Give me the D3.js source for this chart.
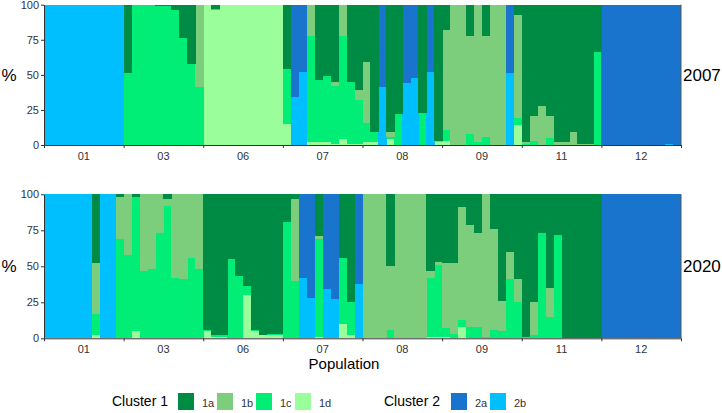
<!DOCTYPE html>
<html>
<head>
<meta charset="utf-8">
<script src="https://cdn.jsdelivr.net/npm/d3@7"></script>
<style>
  body { margin: 0; background: #fff; }
  svg { font-family: "Liberation Sans", Arial, sans-serif; }
</style>
</head>
<body>
<div id="chart"></div>
<script>
// population labels along the x axis
var popLabels = ["01", "03", "06", "07", "08", "09", "11", "12"];
var yTicks = [0, 25, 50, 75, 100];

// cluster keys, stacked bottom to top
var clusterKeys = ["1d", "1c", "2b", "1b", "2a", "1a"];
var clusterColors = {"1a": "#008B45", "1b": "#7CCD7C", "1c": "#00EE76", "1d": "#9AFF9A", "2a": "#1874CD", "2b": "#00BFFF"};

// 2007: membership (%) of each of the 80 individuals
var q2007_1a = [0,0,0,0,0,0,0,0,0,0, 49,0,0,0,1,1,4,24,42,0, 0,3,0,0,0,0,0,0,0,0,
  46,0,0,0,54,51,55,0,55,61, 41,91,0,91,78,0,0,77,0,97, 18,0,0,22,0,22,0,0,0,7,
  98,79,72,79,98,98,91,99,99,34, 0,0,0,0,0,0,0,0,0,0];
var q2007_1b = [0,0,0,0,0,0,0,0,0,0, 0,0,0,0,0,0,0,0,0,59, 0,0,0,0,0,0,0,0,0,0,
  0,0,0,22,0,0,3,22,0,7, 43,0,0,3,0,0,0,0,0,1, 71,100,100,70,98,72,100,100,0,74,
  1,18,28,16,2,2,9,1,1,0, 0,0,0,0,0,0,0,0,0,0];
var q2007_1c = [0,0,0,0,0,0,0,0,0,0, 51,100,100,100,99,99,96,76,58,41, 0,1,0,0,0,0,0,0,0,0,
  39,0,0,76,44,47,41,74,44,31, 14,7,0,2,22,0,0,23,0,0, 8,0,0,8,2,6,0,0,0,5,
  1,3,0,5,0,0,0,0,0,66, 0,0,0,0,0,0,0,0,0,0];
var q2007_1d = [0,0,0,0,0,0,0,0,0,0, 0,0,0,0,0,0,0,0,0,0, 100,96,100,100,100,100,100,100,100,100,
  15,0,0,2,2,2,1,4,1,1, 2,2,0,4,0,0,0,0,0,2, 3,0,0,0,0,0,0,0,0,14,
  0,0,0,0,0,0,0,0,0,0, 0,0,0,0,0,0,0,0,0,0];
var q2007_2a = [0,0,0,0,0,0,0,0,0,0, 0,0,0,0,0,0,0,0,0,0, 0,0,0,0,0,0,0,0,0,0,
  0,66,48,0,0,0,0,0,0,0, 0,0,59,0,0,56,52,0,48,0, 0,0,0,0,0,0,0,0,49,0,
  0,0,0,0,0,0,0,0,0,0, 100,100,100,100,100,100,100,100,99,100];
var q2007_2b = [100,100,100,100,100,100,100,100,100,100, 0,0,0,0,0,0,0,0,0,0, 0,0,0,0,0,0,0,0,0,0,
  0,34,52,0,0,0,0,0,0,0, 0,0,41,0,0,44,48,0,52,0, 0,0,0,0,0,0,0,0,51,0,
  0,0,0,0,0,0,0,0,0,0, 0,0,0,0,0,0,0,0,1,0];

// 2020
var q2020_1a = [0,0,0,0,0,0,48,0,0,2, 0,2,0,0,0,3,0,0,0,0, 94,98,98,45,57,64,94,98,97,97,
  19,3,0,0,29,0,0,44,75,0, 0,0,0,50,0,0,0,0,53,47, 48,48,9,21,27,0,24,74,40,59,
  99,75,27,65,28,100,100,100,100,100, 0,0,0,0,0,0,0,0,0,0];
var q2020_1b = [0,0,0,0,0,0,35,0,0,29, 42,0,53,52,27,5,58,59,44,52, 0,0,0,0,0,0,0,0,0,0,
  0,57,0,0,2,0,0,0,0,0, 100,100,100,44,100,100,100,100,5,2, 45,49,78,71,65,99,70,21,19,16,
  0,23,0,20,0,0,0,0,0,0, 0,0,0,0,0,0,0,0,0,0];
var q2020_1c = [0,0,0,0,0,0,15,0,0,69, 58,93,47,48,73,92,42,41,56,48, 1,1,1,55,43,6,1,0,1,1,
  81,40,0,0,68,0,0,46,23,0, 0,0,0,6,0,0,0,0,41,50, 6,3,5,8,8,1,6,5,41,25,
  1,2,73,15,72,0,0,0,0,0, 0,0,0,0,0,0,0,0,0,0];
var q2020_1d = [0,0,0,0,0,0,2,0,0,0, 0,5,0,0,0,0,0,0,0,0, 5,1,1,0,0,30,5,2,2,2,
  0,0,0,0,1,0,0,10,2,0, 0,0,0,0,0,0,0,0,1,1, 1,0,8,0,0,0,0,0,0,0,
  0,0,0,0,0,0,0,0,0,0, 0,0,0,0,0,0,0,0,0,0];
var q2020_2a = [0,0,0,0,0,0,0,0,0,0, 0,0,0,0,0,0,0,0,0,0, 0,0,0,0,0,0,0,0,0,0,
  0,0,58,72,0,66,73,0,0,62, 0,0,0,0,0,0,0,0,0,0, 0,0,0,0,0,0,0,0,0,0,
  0,0,0,0,0,0,0,0,0,0, 100,100,100,100,100,100,100,100,100,100];
var q2020_2b = [100,100,100,100,100,100,0,100,100,0, 0,0,0,0,0,0,0,0,0,0, 0,0,0,0,0,0,0,0,0,0,
  0,0,42,28,0,34,27,0,0,38, 0,0,0,0,0,0,0,0,0,0, 0,0,0,0,0,0,0,0,0,0,
  0,0,0,0,0,0,0,0,0,0, 0,0,0,0,0,0,0,0,0,0];

var legend1 = ["1a", "1b", "1c", "1d"];
var legend2 = ["2a", "2b"];

function buildRows(cols) {
  return d3.range(80).map(function(i) {
    var r = {id: i};
    clusterKeys.forEach(function(k) { r[k] = cols[k][i]; });
    return r;
  });
}

var panels = [
  {year: "2007", top: 4.7, bottom: 145,
   rows: buildRows({"1a": q2007_1a, "1b": q2007_1b, "1c": q2007_1c, "1d": q2007_1d, "2a": q2007_2a, "2b": q2007_2b})},
  {year: "2020", top: 194.3, bottom: 338.3,
   rows: buildRows({"1a": q2020_1a, "1b": q2020_1b, "1c": q2020_1c, "1d": q2020_1d, "2a": q2020_2a, "2b": q2020_2b})}
];

var width = 722, height = 413,
    left = 44, right = 681;

var svg = d3.select("#chart").append("svg")
    .attr("width", width)
    .attr("height", height);

var x = d3.scaleBand().domain(d3.range(80)).range([left, right]).padding(0);
var xPop = d3.scaleBand().domain(popLabels).range([left, right]);
var xEdge = d3.scaleLinear().domain([0, popLabels.length]).range([left, right]);
var stack = d3.stack().keys(clusterKeys);

panels.forEach(function(p) {
  var y = d3.scaleLinear().domain([0, 100]).range([p.bottom, p.top]);
  var g = svg.append("g");

  g.selectAll("g.layer")
    .data(stack(p.rows))
    .enter().append("g")
      .attr("class", "layer")
      .attr("fill", function(d) { return clusterColors[d.key]; })
    .selectAll("rect")
    .data(function(d) { return d; })
    .enter().append("rect")
      .attr("x", function(d) { return x(d.data.id); })
      .attr("width", x.bandwidth() + 0.4)
      .attr("y", function(d) { return y(d[1]); })
      .attr("height", function(d) { return Math.max(0, y(d[0]) - y(d[1])); })
      .attr("shape-rendering", "crispEdges");

  // y axis
  var ya = g.append("g")
    .attr("transform", "translate(" + left + ",0)")
    .call(d3.axisLeft(y).tickValues(yTicks).tickSize(3).tickSizeOuter(0).tickPadding(2));
  ya.selectAll("text").style("font-size", "11px").style("fill", "#333");
  ya.selectAll("line, path").style("stroke", "#333");

  // x axis: labels centred on populations, ticks at the boundaries
  var xa = g.append("g")
    .attr("transform", "translate(0," + p.bottom + ")")
    .call(d3.axisBottom(xPop).tickSize(0).tickPadding(7));
  xa.selectAll("text").style("font-size", "11px").style("fill", "#333");
  xa.select(".domain").style("stroke", "#333");

  var xt = g.append("g")
    .attr("transform", "translate(0," + p.bottom + ")")
    .call(d3.axisBottom(xEdge).ticks(popLabels.length).tickFormat("").tickSize(3).tickSizeOuter(0));
  xt.select(".domain").remove();
  xt.selectAll("line").style("stroke", "#333");

  g.append("line")
    .attr("x1", right).attr("x2", right)
    .attr("y1", p.top).attr("y2", p.bottom)
    .style("stroke", "#555").style("stroke-width", 1);

  g.append("text")
    .attr("x", 9)
    .attr("y", (p.top + p.bottom) / 2 + 6)
    .attr("text-anchor", "middle")
    .style("font-size", "17px")
    .style("fill", "#000")
    .text("%");

  g.append("text")
    .attr("x", 683)
    .attr("y", (p.top + p.bottom) / 2 + 6)
    .style("font-size", "17px")
    .style("fill", "#000")
    .text(p.year);
});

svg.append("text")
    .attr("x", 344)
    .attr("y", 369)
    .attr("text-anchor", "middle")
    .style("font-size", "15px")
    .style("fill", "#000")
    .text("Population");

// legend
function legendGroup(title, keys, titleEnd, x0) {
  svg.append("text")
    .attr("x", titleEnd)
    .attr("y", 406)
    .attr("text-anchor", "end")
    .style("font-size", "14px")
    .style("fill", "#000")
    .text(title);
  var items = svg.selectAll(null)
    .data(keys)
    .enter().append("g")
      .attr("transform", function(d, i) { return "translate(" + (x0 + i * 39) + ",393)"; });
  items.append("rect")
    .attr("width", 16)
    .attr("height", 17)
    .attr("fill", function(d) { return clusterColors[d]; });
  items.append("text")
    .attr("x", 24)
    .attr("y", 14)
    .style("font-size", "11px")
    .style("fill", "#333")
    .text(function(d) { return d; });
}

legendGroup("Cluster 1", legend1, 168, 178);
legendGroup("Cluster 2", legend2, 440, 451);
</script>
</body>
</html>
